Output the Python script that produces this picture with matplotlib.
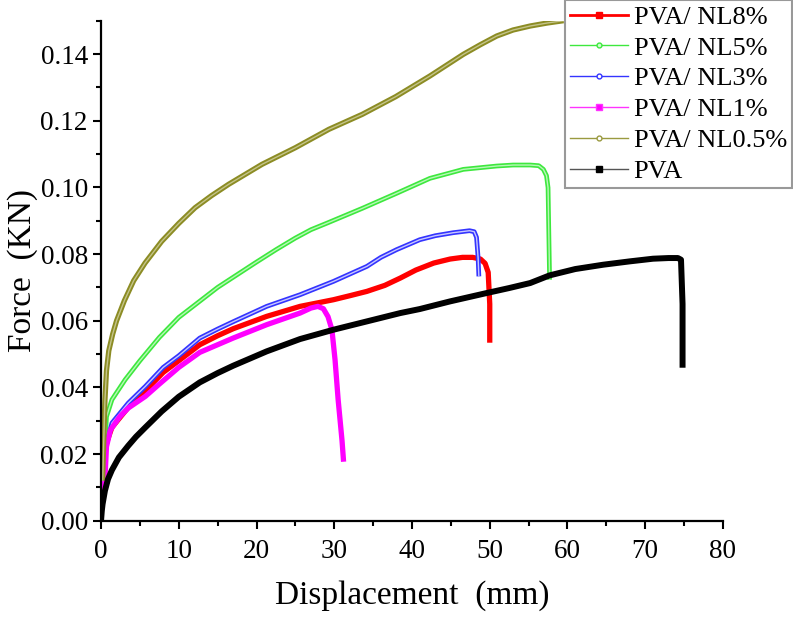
#!/usr/bin/env python3
"""Force-displacement curves of PVA and PVA/NL films."""

import matplotlib

matplotlib.use("Agg")
import matplotlib.patheffects as pe
import matplotlib.pyplot as plt
from matplotlib.lines import Line2D
from matplotlib.ticker import MultipleLocator, FormatStrFormatter

plt.rcParams["font.family"] = ["Liberation Serif", "DejaVu Serif"]

# values (displacement mm, force KN)
nl8_x = [0.3, 0.5, 1.4, 3.5, 5.7, 8.0, 10.0, 12.7, 15.0, 17.0, 21.3, 25.6, 29.9,
         32.0, 34.2, 36.5, 38.5, 40.5, 42.8, 44.9, 46.5, 47.8, 48.8, 49.4, 49.8,
         50.0, 50.0]
nl8_y = [0.013, 0.022, 0.028, 0.034, 0.039, 0.0445, 0.048, 0.0528, 0.0555, 0.0576,
         0.0613, 0.0643, 0.0663, 0.0675, 0.0688, 0.0706, 0.0728, 0.0752, 0.0773,
         0.0785, 0.079, 0.079, 0.0785, 0.0772, 0.0745, 0.065, 0.0534]

nl5_x = [0.3, 0.5, 0.7, 1.4, 3.1, 5.0, 7.5, 10.0, 12.5, 15.0, 17.5, 19.8, 22.5,
         25.0, 27.0, 29.2, 33.6, 38.0, 42.3, 46.6, 50.9, 53.0, 55.2, 56.3, 56.9,
         57.3, 57.5, 57.7]
nl5_y = [0.013, 0.022, 0.0312, 0.0363, 0.0423, 0.048, 0.055, 0.061, 0.0655, 0.070,
         0.0738, 0.0773, 0.0813, 0.0848, 0.0873, 0.0894, 0.0937, 0.0982, 0.1027,
         0.1054, 0.1064, 0.1067, 0.1067, 0.1065, 0.1054, 0.1035, 0.0999, 0.0723]

nl3_x = [0.3, 0.6, 1.4, 3.5, 5.7, 8.0, 10.0, 12.7, 15.0, 17.0, 21.3, 25.6, 29.9,
         32.0, 34.2, 36.0, 38.0, 41.0, 43.0, 45.3, 47.4, 48.0, 48.3, 48.5, 48.6]
nl3_y = [0.013, 0.022, 0.0293, 0.0353, 0.0403, 0.046, 0.0495, 0.0548, 0.0575,
         0.0597, 0.0643, 0.0678, 0.0718, 0.074, 0.0763, 0.079, 0.0813, 0.0843,
         0.0855, 0.0864, 0.087, 0.0867, 0.085, 0.079, 0.0733]

nl1_x = [0.3, 0.5, 0.7, 1.2, 2.4, 3.5, 5.7, 7.4, 10.0, 12.7, 15.0, 17.0, 21.3,
         25.6, 27.0, 27.9, 28.6, 29.2, 29.7, 30.1, 30.5, 31.0, 31.2]
nl1_y = [0.008, 0.0123, 0.0222, 0.0272, 0.0312, 0.0338, 0.0373, 0.0408, 0.046,
         0.0505, 0.0528, 0.0548, 0.0588, 0.0623, 0.0638, 0.0643, 0.0636, 0.0612,
         0.0573, 0.0483, 0.0363, 0.024, 0.0177]

nl05_x = [0.2, 0.3, 0.5, 0.7, 1.0, 1.5, 2.0, 3.0, 4.2, 5.66, 7.8, 10.0, 12.1,
          14.2, 16.4, 20.7, 25.0, 29.3, 33.6, 37.9, 42.3, 46.6, 48.8, 50.9, 53.0,
          55.2, 57.4, 59.5]
nl05_y = [0.012, 0.02, 0.036, 0.045, 0.051, 0.056, 0.060, 0.066, 0.072, 0.0773,
          0.0838, 0.0892, 0.0939, 0.0975, 0.1009, 0.1069, 0.1119, 0.1174, 0.1219,
          0.1272, 0.1334, 0.1399, 0.1428, 0.1454, 0.1472, 0.1484, 0.1493, 0.150]

pva_x = [0.0, 0.1, 0.2, 0.5, 0.9, 1.4, 2.3, 3.5, 4.5, 5.7, 7.8, 10.0, 12.7, 15.0,
         17.0, 21.3, 25.6, 29.9, 34.2, 38.5, 41.0, 44.9, 49.6, 52.5, 55.2, 57.7,
         61.0, 64.6, 68.0, 71.0, 73.0, 74.2, 74.6, 74.8, 74.8]
pva_y = [0.0, 0.003, 0.005, 0.009, 0.0125, 0.0152, 0.019, 0.0225, 0.0252, 0.028,
         0.0328, 0.0372, 0.0415, 0.0443, 0.0465, 0.0508, 0.0545, 0.0573, 0.0598,
         0.0623, 0.0635, 0.0658, 0.0683, 0.0698, 0.0713, 0.0736, 0.0755, 0.0768,
         0.0778, 0.0786, 0.0788, 0.0788, 0.0783, 0.065, 0.0459]

labels = ["PVA/ NL8%", "PVA/ NL5%", "PVA/ NL3%", "PVA/ NL1%", "PVA/ NL0.5%", "PVA"]

fig = plt.figure(figsize=(7.93, 6.17), dpi=100)
ax = fig.add_axes([0.1274, 0.156, 0.7843, 0.8105])

line_kw = dict(solid_capstyle="butt", solid_joinstyle="round")
ax.plot(nl8_x, nl8_y, color="#ff0000", lw=3.8, **line_kw)
ax.plot(nl5_x, nl5_y, color="#b8f8b8", lw=1.0, **line_kw,
        path_effects=[pe.Stroke(linewidth=3.4, foreground="#3ee83e",
                                joinstyle="round"), pe.Normal()])
ax.plot(nl3_x, nl3_y, color="#c8c8ff", lw=1.0, **line_kw,
        path_effects=[pe.Stroke(linewidth=3.4, foreground="#3434ff",
                                joinstyle="round"), pe.Normal()])
ax.plot(nl1_x, nl1_y, color="#ff00ff", lw=3.8, **line_kw)
ax.plot(nl05_x, nl05_y, color="#c4c48a", lw=1.0, **line_kw,
        path_effects=[pe.Stroke(linewidth=3.8, foreground="#8c8c24",
                                joinstyle="round"), pe.Normal()])
ax.plot(pva_x, pva_y, color="#000000", lw=4.3, **line_kw)

ax.set_xlim(0, 80)
ax.set_ylim(0, 0.15)
ax.xaxis.set_major_locator(MultipleLocator(10))
ax.xaxis.set_minor_locator(MultipleLocator(5))
ax.yaxis.set_major_locator(MultipleLocator(0.02))
ax.yaxis.set_minor_locator(MultipleLocator(0.01))
ax.yaxis.set_major_formatter(FormatStrFormatter("%.2f"))
ax.tick_params(which="major", direction="out", length=6, width=1.5, labelsize=19.5)
ax.tick_params(which="minor", direction="out", length=3.5, width=1.5)
ax.tick_params(axis="x", pad=7)
ax.spines["top"].set_visible(False)
ax.spines["right"].set_visible(False)
for side in ("left", "bottom"):
    ax.spines[side].set_linewidth(1.6)

ax.set_xlabel("Displacement  (mm)", fontsize=24, labelpad=12)
ax.set_ylabel("Force  (KN)", fontsize=24, labelpad=2)

handles = [
    Line2D([], [], color="#ff0000", lw=2, marker="s", ms=4, mfc="#ff0000"),
    Line2D([], [], color="#3ee83e", lw=1, marker="o", ms=3.5, mfc="#d0ffd0"),
    Line2D([], [], color="#3434ff", lw=1, marker="o", ms=3.5, mfc="white"),
    Line2D([], [], color="#ff33ff", lw=1, marker="s", ms=4, mfc="#ff00ff"),
    Line2D([], [], color="#9a9a40", lw=1, marker="o", ms=3.5, mfc="white"),
    Line2D([], [], color="#555555", lw=1, marker="s", ms=4, mfc="#000000",
           mec="#000000"),
]
leg = fig.legend(handles, labels, loc="upper right", bbox_to_anchor=(0.999, 1.0),
                 fontsize=19, frameon=True, fancybox=False, borderpad=0.2,
                 labelspacing=0.28, handlelength=2.2, handletextpad=0.2,
                 borderaxespad=0)
leg.get_frame().set_edgecolor("#808080")
leg.get_frame().set_linewidth(1.5)

fig.savefig("out.png", dpi=100)
plt.close(fig)
